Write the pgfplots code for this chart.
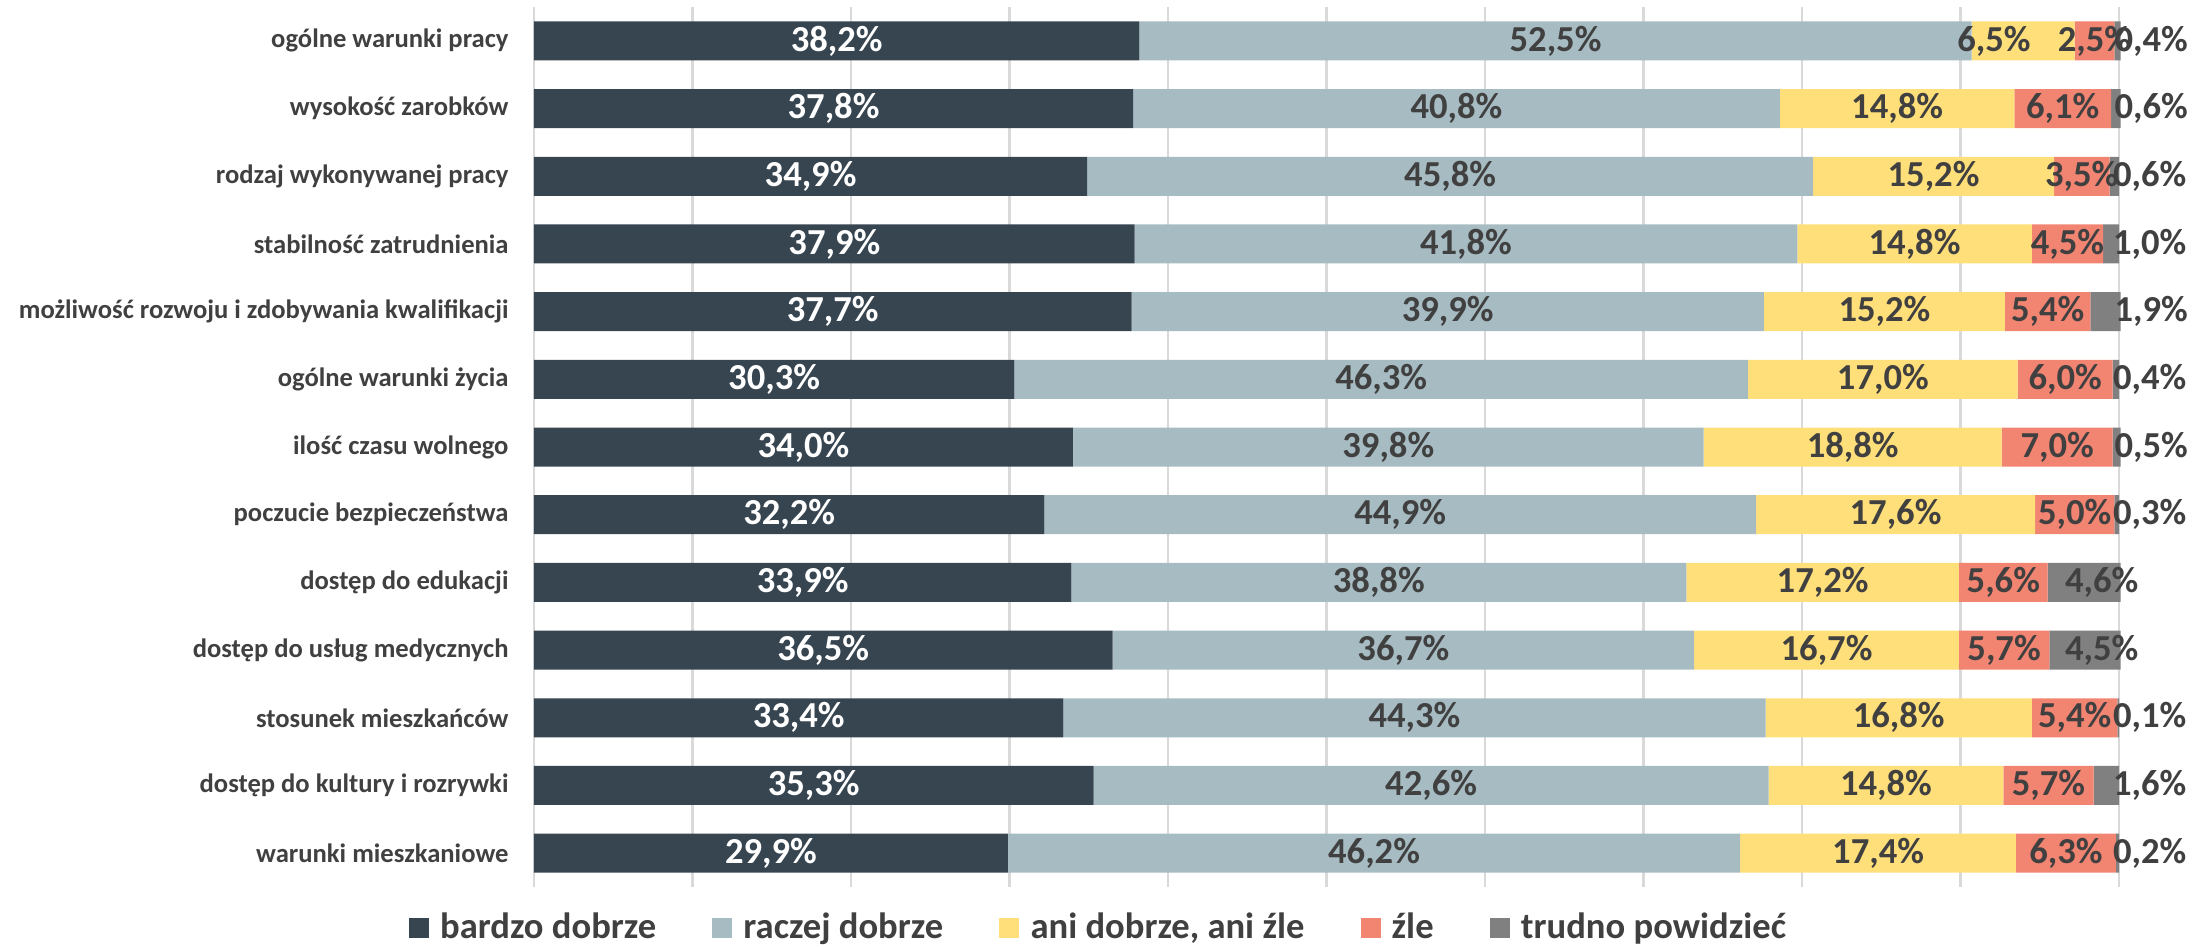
\documentclass[border=0pt]{standalone}
\usepackage{pgfplots}
\pgfplotsset{compat=1.18}
\usepackage{pgfplotstable}
\usepackage{fontspec}
\setmainfont{Carlito}

\definecolor{c1}{RGB}{55,69,81}
\definecolor{c2}{RGB}{167,187,194}
\definecolor{c3}{RGB}{255,223,122}
\definecolor{c4}{RGB}{242,132,114}
\definecolor{c5}{RGB}{128,128,128}
\definecolor{txt}{RGB}{64,64,64}
\definecolor{gridc}{RGB}{217,217,217}

\pgfplotstableread{
idx a b c d e
0 38.2 52.5 6.5 2.5 0.4
1 37.8 40.8 14.8 6.1 0.6
2 34.9 45.8 15.2 3.5 0.6
3 37.9 41.8 14.8 4.5 1.0
4 37.7 39.9 15.2 5.4 1.9
5 30.3 46.3 17.0 6.0 0.4
6 34.0 39.8 18.8 7.0 0.5
7 32.2 44.9 17.6 5.0 0.3
8 33.9 38.8 17.2 5.6 4.6
9 36.5 36.7 16.7 5.7 4.5
10 33.4 44.3 16.8 5.4 0.1
11 35.3 42.6 14.8 5.7 1.6
12 29.9 46.2 17.4 6.3 0.2
}\data

\pgfplotsset{
  mid/.style={every node near coord/.style={font=\bfseries\fontsize{12.2}{14}\selectfont, anchor=center, inner sep=0pt, text=#1}},
  midrow/.style={visualization depends on={\thisrow{idx} \as \rowi},
    every node near coord/.style={font=\bfseries\fontsize{12.2}{14}\selectfont, anchor=center, inner sep=0pt, text=txt,
      xshift={(\rowi==0) ? -9.7pt : 0pt}}},
  lastlab/.style={visualization depends on={\thisrow{#1} \as \val},
    every node near coord/.style={font=\bfseries\fontsize{12.2}{14}\selectfont, anchor=center, inner sep=0pt, text=txt,
      xshift={(\val<3) ? (\val*2.641667pt+10.2pt) : (\val*2.641667pt-6.3pt)}}},
}

\begin{document}
\begin{tikzpicture}
\begin{axis}[
  at={(0,0)}, anchor=south west,
  scale only axis, width=528.333pt, height=293.333pt,
  xbar stacked, bar width=13pt,
  xmin=0, xmax=100, ymin=-0.5, ymax=12.5, y dir=reverse,
  xtick={0,10,...,100}, xticklabels={}, xmajorgrids,
  grid style={gridc, line width=0.8pt},
  ytick={0,...,12},
  yticklabels={ogólne warunki pracy, wysokość zarobków, rodzaj wykonywanej pracy, stabilność zatrudnienia, możliwość rozwoju i zdobywania kwalifikacji, ogólne warunki życia, ilość czasu wolnego, poczucie bezpieczeństwa, dostęp do edukacji, dostęp do usług medycznych, stosunek mieszkańców, dostęp do kultury i rozrywki, warunki mieszkaniowe},
  yticklabel style={font=\bfseries\fontsize{8.87}{10}\selectfont, text=txt, inner sep=0pt, xshift=-8.3pt},
  tick style={draw=none},
  axis line style={draw=none},
  clip=false,
  point meta=explicit,
  nodes near coords={\pgfmathprintnumber[fixed,fixed zerofill,precision=1,use comma,assume math mode=true]{\pgfplotspointmeta}\%},
  legend style={at={(0.3555,-0.0466)}, anchor=center, draw=none, fill=none,
    legend columns=-1, font=\bfseries\fontsize{12.2}{14}\selectfont, text=txt,
    nodes={inner sep=0pt, text=txt},
    /tikz/every odd column/.append style={column sep=3.7pt},
    /tikz/every even column/.append style={column sep=18.7pt}},
  legend image code/.code={\fill[#1] (0pt,-3.35pt) rectangle (6.7pt,3.35pt);},
]
\addplot[fill=c1, draw=none, mid=white] table[x=a, y=idx, meta=a] {\data};
\addplot[fill=c2, draw=none, mid=txt] table[x=b, y=idx, meta=b] {\data};
\addplot[fill=c3, draw=none, midrow] table[x=c, y=idx, meta=c] {\data};
\addplot[fill=c4, draw=none, mid=txt] table[x=d, y=idx, meta=d] {\data};
\addplot[fill=c5, draw=none, lastlab=e] table[x=e, y=idx, meta=e] {\data};
\addlegendentry{bardzo dobrze}
\addlegendentry{raczej dobrze}
\addlegendentry{ani dobrze, ani źle}
\addlegendentry{źle}
\addlegendentry{trudno powidzieć}
\end{axis}
\pgfresetboundingbox
\path[use as bounding box] (-178pt,-19.667pt) rectangle (556.333pt,295.667pt);
\end{tikzpicture}
\end{document}
